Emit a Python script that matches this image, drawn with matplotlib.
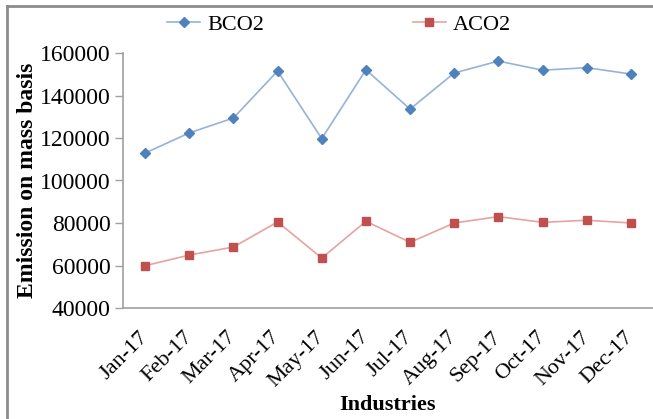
import matplotlib.pyplot as plt
from matplotlib.lines import Line2D

plt.rcParams['font.family'] = ['Liberation Serif', 'DejaVu Serif']

months = ['Jan-17', 'Feb-17', 'Mar-17', 'Apr-17', 'May-17', 'Jun-17',
          'Jul-17', 'Aug-17', 'Sep-17', 'Oct-17', 'Nov-17', 'Dec-17']
bco2 = [112900, 122400, 129400, 151500, 119700, 152100,
        133600, 150600, 156200, 151900, 153100, 150100]
aco2 = [59900, 64900, 68700, 80500, 63500, 80800,
        70900, 80000, 83000, 80300, 81300, 80000]
yticks = [40000, 60000, 80000, 100000, 120000, 140000, 160000]

W, H = 653, 419
fig = plt.figure(figsize=(W / 100, H / 100), dpi=100)
ax = fig.add_axes([123 / W, (H - 308) / H, 530 / W, 255 / H])

x = list(range(len(months)))
ax.plot(x, bco2, color='#95b3d7', lw=1.2, marker='D', ms=5,
        mfc='#4f81bd', mec='#4f81bd', label='BCO2')
ax.plot(x, aco2, color='#e6a3a2', lw=1.2, marker='s', ms=5.5,
        mfc='#c0504d', mec='#c0504d', label='ACO2')

ax.set_xlim(-0.5, len(months) - 0.5)
ax.set_ylim(40000, 160000)
ax.set_yticks(yticks)
ax.set_yticklabels([str(v) for v in yticks], fontsize=17)
ax.set_xticks(x)
ax.set_xticklabels(months, rotation=45, ha='right', va='center',
                   rotation_mode='anchor', fontsize=16)
ax.tick_params(axis='x', length=0, pad=19)
ax.tick_params(axis='y', length=6, width=1, color='#a0a0a0', pad=3)

for s in ['top', 'right']:
    ax.spines[s].set_visible(False)
for s in ['left', 'bottom']:
    ax.spines[s].set_color('#a0a0a0')
    ax.spines[s].set_linewidth(1.2)

ax.set_ylabel('Emission on mass basis', fontsize=17, fontweight='bold',
              labelpad=1)
fig.text(388 / W, (H - 405) / H, 'Industries', fontsize=16,
         fontweight='bold', ha='center', va='center')

fig.legend(loc='center', bbox_to_anchor=(339 / W, (H - 25) / H), ncol=2,
           frameon=False, fontsize=16, columnspacing=6.7, handlelength=1.5,
           handletextpad=0.3)

# outer gray frame
fig.add_artist(Line2D([7 / W, 7 / W], [0, (H - 6) / H], color='#8c8c8c',
                      lw=2, transform=fig.transFigure))
fig.add_artist(Line2D([7 / W, 1], [(H - 6) / H, (H - 6) / H],
                      color='#8c8c8c', lw=2, transform=fig.transFigure))

fig.savefig('out.png', dpi=100)
